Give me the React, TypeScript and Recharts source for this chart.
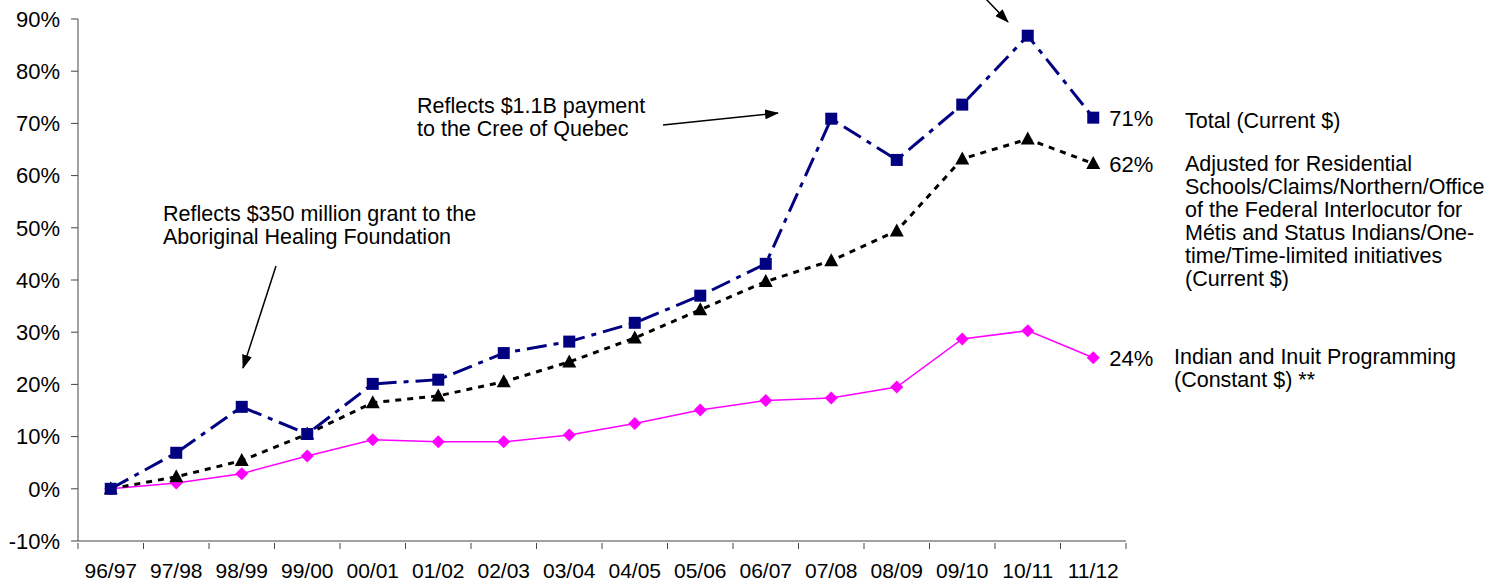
import React from 'react';
import { LineChart, Line, XAxis, YAxis } from 'recharts';

const YEARS = [
  '96/97', '97/98', '98/99', '99/00', '00/01', '01/02', '02/03', '03/04',
  '04/05', '05/06', '06/07', '07/08', '08/09', '09/10', '10/11', '11/12',
];
const TOTAL = [0, 6.9, 15.7, 10.5, 20.1, 20.9, 26.0, 28.2, 31.8, 37.0, 43.1, 70.9, 63.0, 73.6, 86.8, 71.1];
const ADJUSTED = [0, 2.3, 5.4, 10.5, 16.5, 17.8, 20.5, 24.3, 28.9, 34.3, 39.7, 43.7, 49.4, 63.2, 67.0, 62.3];
const INDIAN = [0, 1.1, 2.9, 6.3, 9.4, 9.0, 9.0, 10.3, 12.5, 15.1, 16.9, 17.4, 19.5, 28.7, 30.3, 25.1];
const Y_TICKS = [-10, 0, 10, 20, 30, 40, 50, 60, 70, 80, 90];
const END_LABELS = { total: '71%', adjusted: '62%', indian: '24%' };

const data = YEARS.map((year, i) => ({
  i,
  year,
  total: TOTAL[i],
  adjusted: ADJUSTED[i],
  indian: INDIAN[i],
}));

const FONT = '"Liberation Sans", Arial, sans-serif';
const LAST = YEARS.length - 1;
const BAND = (1486 - 78 - 360) / YEARS.length;

function XTick(props: any) {
  const { x, y, payload, index } = props;
  return (
    <g>
      <line x1={x - BAND / 2} y1={y} x2={x - BAND / 2} y2={y + 6} stroke="#444" />
      {index === LAST && <line x1={x + BAND / 2} y1={y} x2={x + BAND / 2} y2={y + 6} stroke="#444" />}
      <text x={x} y={y + 35} textAnchor="middle" fontSize={21} fontFamily={FONT} fill="#000">
        {YEARS[payload.value]}
      </text>
    </g>
  );
}

const squareDot = (p: any) => (
  <rect key={`s${p.index}`} x={p.cx - 6} y={p.cy - 6} width={12} height={12} fill="#000080" />
);
const triangleDot = (p: any) => (
  <path key={`t${p.index}`} d={`M${p.cx},${p.cy - 7.5} L${p.cx + 7},${p.cy + 5.5} L${p.cx - 7},${p.cy + 5.5} Z`} fill="#000" />
);
const diamondDot = (p: any) => (
  <path key={`d${p.index}`} d={`M${p.cx},${p.cy - 6.5} L${p.cx + 6.5},${p.cy} L${p.cx},${p.cy + 6.5} L${p.cx - 6.5},${p.cy} Z`} fill="#FF00FF" />
);

const endLabel = (text: string) => (p: any) =>
  p.index === LAST ? (
    <text key="end" x={p.x + 16} y={p.y} dy="0.36em" fontSize={22} fontFamily={FONT} fill="#000">
      {text}
    </text>
  ) : (
    <g key={`e${p.index}`} />
  );

const textStyle: React.CSSProperties = {
  position: 'absolute',
  fontFamily: FONT,
  fontSize: 21.5,
  lineHeight: '23px',
  color: '#000',
  whiteSpace: 'nowrap',
};

export default function App() {
  return (
    <div style={{ position: 'absolute', left: 0, top: 0, width: 1486, height: 582, background: '#fff', overflow: 'hidden' }}>
      <LineChart width={1486} height={582} data={data} margin={{ top: 19, right: 360, bottom: 0, left: 0 }}>
        <XAxis
          dataKey="i"
          type="number"
          domain={[-0.5, 15.5]}
          ticks={data.map((d) => d.i)}
          interval={0}
          tickLine={false}
          tickSize={0}
          tick={<XTick />}
          stroke="#444"
          height={41}
        />
        <YAxis
          type="number"
          domain={[-10, 90]}
          ticks={Y_TICKS}
          interval={0}
          width={78}
          tickSize={7}
          tickMargin={11}
          stroke="#444"
          tickFormatter={(v) => `${v}%`}
          tick={{ fontSize: 22, fontFamily: FONT, fill: '#000' }}
        />
        <Line
          dataKey="indian"
          stroke="#FF00FF"
          strokeWidth={1.5}
          dot={diamondDot}
          label={endLabel(END_LABELS.indian)}
          isAnimationActive={false}
        />
        <Line
          dataKey="adjusted"
          stroke="#000"
          strokeWidth={3}
          strokeDasharray="6 6"
          dot={triangleDot}
          label={endLabel(END_LABELS.adjusted)}
          isAnimationActive={false}
        />
        <Line
          dataKey="total"
          stroke="#000080"
          strokeWidth={3}
          strokeDasharray="20 7 5 7"
          dot={squareDot}
          label={endLabel(END_LABELS.total)}
          isAnimationActive={false}
        />
      </LineChart>

      <svg width={1486} height={582} style={{ position: 'absolute', left: 0, top: 0, pointerEvents: 'none' }}>
        <defs>
          <marker id="arrow" markerWidth="14" markerHeight="10" refX="13" refY="5" orient="auto" markerUnits="userSpaceOnUse" viewBox="0 0 14 10">
            <path d="M0,0 L14,5 L0,10 Z" fill="#000" />
          </marker>
        </defs>
        <line x1={276} y1={266} x2={243} y2={368} stroke="#000" strokeWidth={1.5} markerEnd="url(#arrow)" />
        <line x1={663} y1={125} x2={778} y2={113} stroke="#000" strokeWidth={1.5} markerEnd="url(#arrow)" />
        <line x1={985} y1={-2} x2={1008} y2={22} stroke="#000" strokeWidth={1.5} markerEnd="url(#arrow)" />
      </svg>

      <div style={{ ...textStyle, left: 163, top: 203 }}>
        Reflects $350 million grant to the
        <br />
        Aboriginal Healing Foundation
      </div>
      <div style={{ ...textStyle, left: 417, top: 95 }}>
        Reflects $1.1B payment
        <br />
        to the Cree of Quebec
      </div>
      <div style={{ ...textStyle, left: 1185, top: 110 }}>Total (Current $)</div>
      <div style={{ ...textStyle, left: 1185, top: 153 }}>
        Adjusted for Residential
        <br />
        Schools/Claims/Northern/Office
        <br />
        of the Federal Interlocutor for
        <br />
        Métis and Status Indians/One-
        <br />
        time/Time-limited initiatives
        <br />
        (Current $)
      </div>
      <div style={{ ...textStyle, left: 1174, top: 346 }}>
        Indian and Inuit Programming
        <br />
        (Constant $) **
      </div>
    </div>
  );
}
